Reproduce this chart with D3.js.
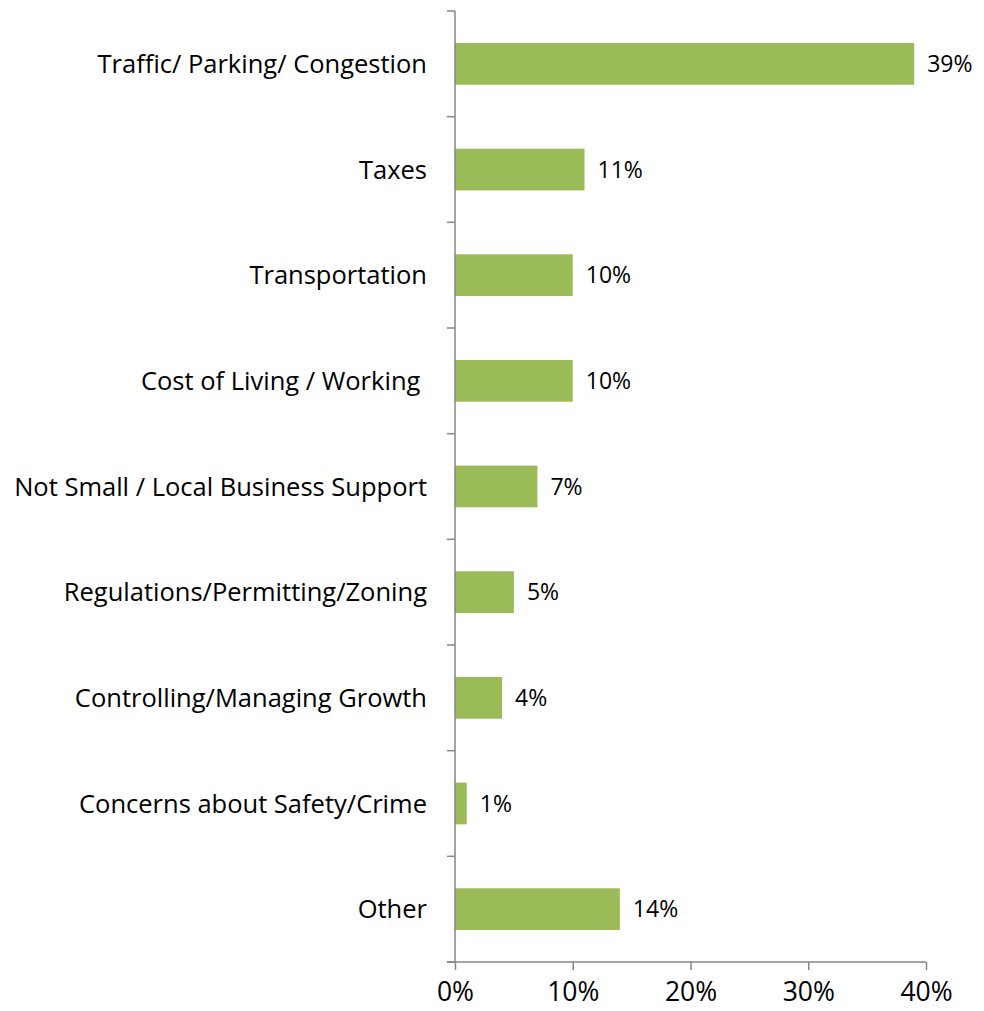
<!DOCTYPE html>
<html>
<head>
<meta charset="utf-8">
<script src="https://cdn.jsdelivr.net/npm/d3@7"></script>
<style>
  body { margin: 0; background: #fff; }
  text { font-family: "Open Sans", sans-serif; fill: #000; }
</style>
</head>
<body>
<div id="chart"></div>
<script>
var categories = [
  "Traffic/ Parking/ Congestion",
  "Taxes",
  "Transportation",
  "Cost of Living / Working ",
  "Not Small / Local Business Support",
  "Regulations/Permitting/Zoning",
  "Controlling/Managing Growth",
  "Concerns about Safety/Crime",
  "Other"
];
var values = [39, 11, 10, 10, 7, 5, 4, 1, 14];
var xTicks = [0, 10, 20, 30, 40];

var width = 984, height = 1011;
var margin = { top: 11, right: 58, bottom: 49, left: 455 };
var w = width - margin.left - margin.right,
  h = height - margin.top - margin.bottom;

var svg = d3
  .select("#chart")
  .append("svg")
  .attr("width", width)
  .attr("height", height);

var g = svg
  .append("g")
  .attr("transform", "translate(" + margin.left + "," + margin.top + ")");

var xScale = d3.scaleLinear().domain([0, 40]).range([0, w]);
var yScale = d3.scaleBand().domain(categories).range([0, h]).paddingInner(0.605).paddingOuter(0.3025);

// category boundaries for the y tick marks
var yEdges = d3.range(categories.length + 1).map(function (i) {
  return (h / categories.length) * i;
});

// bars
g.selectAll(".bar")
  .data(values)
  .enter()
  .append("rect")
  .attr("class", "bar")
  .attr("x", 0)
  .attr("y", function (d, i) {
    return yScale(categories[i]);
  })
  .attr("width", function (d) {
    return xScale(d);
  })
  .attr("height", yScale.bandwidth())
  .attr("fill", "#9bbb59");

// value labels
g.selectAll(".val")
  .data(values)
  .enter()
  .append("text")
  .attr("class", "val")
  .attr("x", function (d) {
    return xScale(d) + 13;
  })
  .attr("y", function (d, i) {
    return yScale(categories[i]) + yScale.bandwidth() / 2;
  })
  .attr("dy", "0.36em")
  .style("font-size", "23px")
  .text(function (d) {
    return d + "%";
  });

// category labels
g.selectAll(".cat")
  .data(categories)
  .enter()
  .append("text")
  .attr("class", "cat")
  .attr("x", -28)
  .attr("y", function (d) {
    return yScale(d) + yScale.bandwidth() / 2;
  })
  .attr("dy", "0.36em")
  .attr("text-anchor", "end")
  .style("font-size", "25.5px")
  .style("white-space", "pre")
  .text(function (d) {
    return d;
  });

// y axis line + ticks
var axisColor = "#868686";
g.append("line")
  .attr("x1", 0)
  .attr("x2", 0)
  .attr("y1", 0)
  .attr("y2", h)
  .attr("stroke", axisColor)
  .attr("stroke-width", 1.5);

g.selectAll(".ytick")
  .data(yEdges)
  .enter()
  .append("line")
  .attr("x1", -8)
  .attr("x2", 0)
  .attr("y1", function (d) { return d; })
  .attr("y2", function (d) { return d; })
  .attr("stroke", axisColor)
  .attr("stroke-width", 1.5);

// x axis
var axisGen = d3
  .axisBottom(xScale)
  .tickValues(xTicks)
  .tickFormat(function (d) { return d + "%"; })
  .tickSize(8)
  .tickSizeOuter(0)
  .tickPadding(12);

var axis = g
  .append("g")
  .attr("transform", "translate(0," + h + ")")
  .call(axisGen);

axis.select(".domain").attr("stroke", axisColor).attr("stroke-width", 1.5).attr("d", "M-8,0H" + w);
axis.selectAll(".tick line").attr("stroke", axisColor).attr("stroke-width", 1.5);
axis
  .selectAll(".tick text")
  .attr("fill", "#000")
  .style("font-family", "'Open Sans', sans-serif")
  .style("font-size", "26.5px");
</script>
</body>
</html>
